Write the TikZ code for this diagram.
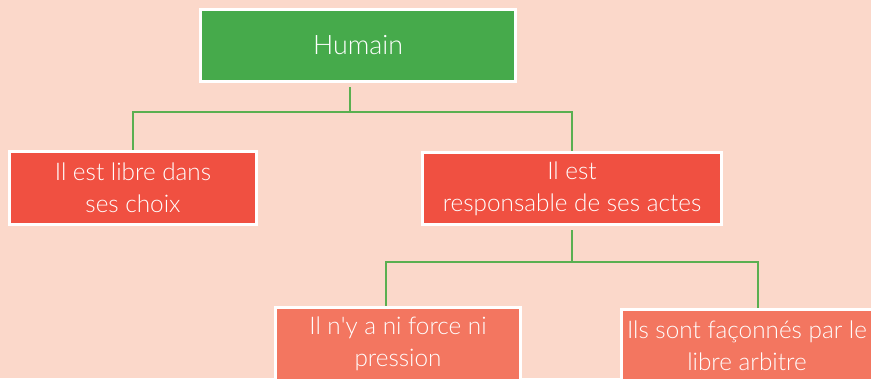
\documentclass[tikz,border=0pt]{standalone}
\usepackage{fontspec}
\setmainfont{Lato Light}
\definecolor{sfondo}{HTML}{FBD8CA}
\definecolor{verde}{HTML}{46AA4B}
\definecolor{rosso}{HTML}{F05041}
\definecolor{salmone}{HTML}{F37660}
\definecolor{linea}{HTML}{5AAF50}
\tikzset{
  box/.style={draw=white, line width=3pt, text=white, align=center,
    inner sep=2pt, font=\fontsize{24.3}{32}\selectfont},
  link/.style={draw=linea, line width=1.5pt}
}
\begin{document}
\begin{tikzpicture}[x=1pt,y=-1pt]
        \useasboundingbox (0,0) rectangle (871,378);
        \clip (0,0) rectangle (871,378);
        \fill[sfondo] (0,0) rectangle (871,378);

        %%%%%%%%%% Nodi %%%%%%%%%%
        \node[box, fill=verde, minimum width=315pt, minimum height=72pt, font=\fontsize{26.8}{32}\selectfont] (humain) at (358,45.5) {Humain};
        \node[box, fill=rosso, minimum width=247pt, minimum height=73pt] (libre) at (133,188) {Il est libre dans\\ses choix};
        \node[box, fill=rosso, minimum width=299pt, minimum height=72pt] (resp) at (572,188.5) {Il est\\responsable de ses actes};
        \node[box, fill=salmone, minimum width=245pt, minimum height=73pt] (force) at (398,344) {Il n\textquotesingle y a ni force ni\\pression};
        \node[box, fill=salmone, minimum width=251pt, minimum height=73pt] (arbitre) at (747,346) {Ils sont façonnés par le\\libre arbitre};

        %%%%%%%%% Linee %%%%%%%%%
        \coordinate (j1) at (350,112);
        \coordinate (j2) at (572,262);
        \draw[link, shorten >=4pt] (j1) -- (j1 |- humain.south);
        \draw[link] (j1) -| (libre.north);
        \draw[link] (j1) -| (resp.north);
        \draw[link, shorten >=4pt] (j2) -- (j2 |- resp.south);
        \draw[link] (j2) -| ([xshift=-12pt]force.north);
        \draw[link] (j2) -| ([xshift=11pt]arbitre.north);
    \end{tikzpicture}
\end{document}
